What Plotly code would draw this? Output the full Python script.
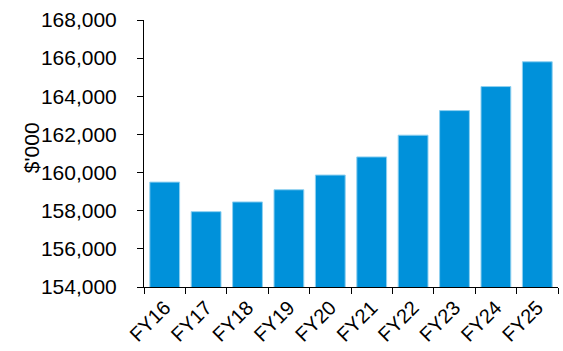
import plotly.graph_objects as go

years = ["FY16", "FY17", "FY18", "FY19", "FY20", "FY21", "FY22", "FY23", "FY24", "FY25"]
values = [159500, 157950, 158460, 159100, 159870, 160820, 161960, 163250, 164510, 165810]
y_ticks = [154000, 156000, 158000, 160000, 162000, 164000, 166000, 168000]

bar_color = "#0091DA"
font_family = "Liberation Sans, Arial, sans-serif"

fig = go.Figure(
    go.Bar(
        x=years,
        y=values,
        marker=dict(color=bar_color, line=dict(color="#8FD0F0", width=1)),
    )
)

fig.update_layout(
    width=563,
    height=351,
    margin=dict(l=144, r=5, t=20, b=62),
    plot_bgcolor="white",
    paper_bgcolor="white",
    bargap=0.28,
    showlegend=False,
    font=dict(family=font_family, color="#000000"),
)

fig.update_xaxes(
    showline=True,
    linecolor="#000000",
    linewidth=1,
    ticks="outside",
    ticklen=6,
    tickcolor="#000000",
    tickson="boundaries",
    tickangle=-45,
    tickfont=dict(size=20),
    showgrid=False,
)

fig.update_yaxes(
    range=[154000, 168000],
    tickvals=y_ticks,
    ticktext=[f"{v:,}" for v in y_ticks],
    showline=True,
    linecolor="#000000",
    linewidth=1,
    ticks="outside",
    ticklen=6,
    tickcolor="#000000",
    tickfont=dict(size=21),
    ticklabelstandoff=16,
    showgrid=False,
    zeroline=False,
)

# Axis unit label, placed a little above the vertical centre of the plot
fig.add_annotation(
    text="$'000",
    xref="paper", yref="paper",
    x=0, y=0.52,
    xshift=-113,
    xanchor="center", yanchor="middle",
    textangle=-90,
    showarrow=False,
    font=dict(size=21),
)

fig.write_html("out.html")
